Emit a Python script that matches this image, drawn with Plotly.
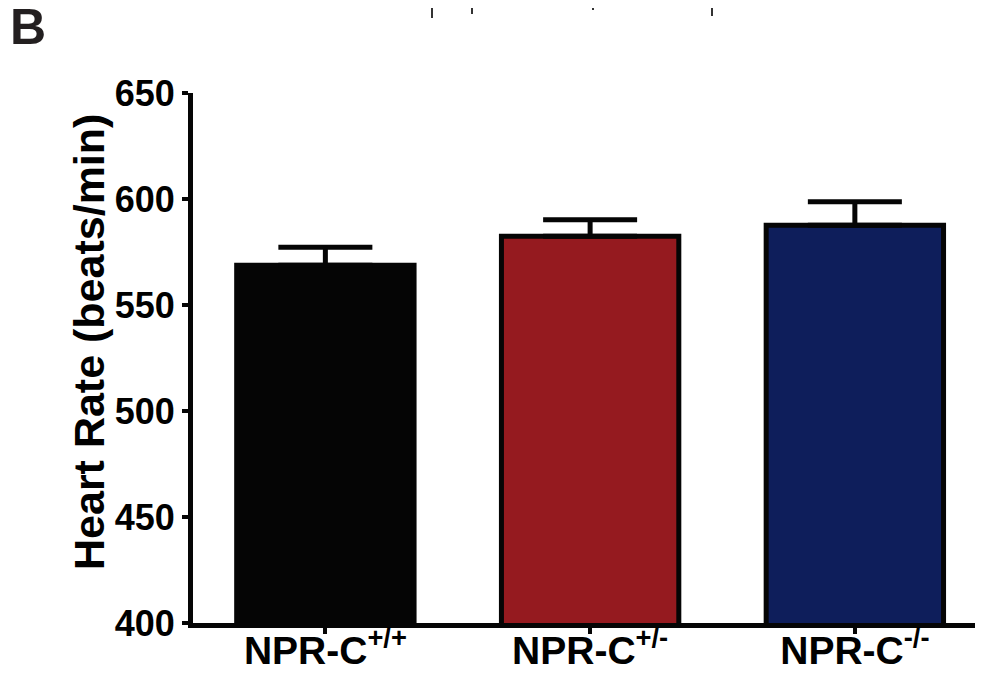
import plotly.graph_objects as go

# Data
categories = ["NPR-C<sup>+/+</sup>", "NPR-C<sup>+/-</sup>", "NPR-C<sup>-/-</sup>"]
heart_rate = [568.7, 582.4, 587.6]
sem = [8.5, 7.8, 11.1]
bar_colors = ["#050505", "#951a1f", "#0e1e5b"]
y_ticks = [400, 450, 500, 550, 600, 650]
y_title = "Heart Rate (beats/min)"
panel_label = "B"

# The page body has an 8px margin, so the figure is sized to fill the rest
OFF = 8
W, H = 983 - OFF, 675 - OFF
L, R, T, B = 193 - OFF, 0, 93 - OFF, 52
pw, ph = W - L - R, H - T - B

def px2paper_x(px):  # px in page coordinates
    return (px - OFF - L) / pw

def px2paper_y(py):
    return (H - B - (py - OFF)) / ph

FONT = "Liberation Sans, Arial, sans-serif"

fig = go.Figure()
fig.add_trace(go.Bar(
    x=list(range(len(categories))),
    y=heart_rate,
    width=0.67,
    marker=dict(color=bar_colors, line=dict(color="#050505", width=5)),
    error_y=dict(type="data", symmetric=False, array=sem,
                 arrayminus=[0] * len(sem), color="#050505",
                 thickness=5, width=47),
    showlegend=False,
))

fig.update_layout(
    width=W, height=H,
    margin=dict(l=L, r=R, t=T, b=B, pad=0),
    plot_bgcolor="white", paper_bgcolor="white",
    font=dict(family=FONT, color="#000000"),
    xaxis=dict(
        range=[-0.5, 2.484],
        tickmode="array",
        tickvals=list(range(len(categories))),
        ticktext=categories,
        tickfont=dict(size=39, family=FONT, weight="bold", color="#000"),
        ticks="outside", ticklen=6, tickwidth=4, tickcolor="#050505",
        ticklabelstandoff=-17,
        showline=True, linecolor="#050505", linewidth=5,
        showgrid=False, zeroline=False, fixedrange=True, automargin=False,
    ),
    yaxis=dict(
        range=[400, 650],
        tickmode="array",
        tickvals=y_ticks,
        tickfont=dict(size=36, family=FONT, weight="bold", color="#000"),
        ticks="outside", ticklen=6, tickwidth=4, tickcolor="#050505",
        showline=True, linecolor="#050505", linewidth=5,
        showgrid=False, zeroline=False, automargin=False,
    ),
    annotations=[
        dict(text=y_title, textangle=-90, xref="paper", yref="paper",
             x=px2paper_x(89), y=px2paper_y(342), xanchor="center", yanchor="middle",
             showarrow=False,
             font=dict(size=43, family=FONT, weight="bold", color="#000")),
        dict(text=panel_label, xref="paper", yref="paper",
             x=px2paper_x(OFF), y=px2paper_y(27), xanchor="left", yanchor="middle",
             showarrow=False,
             font=dict(size=50, family=FONT, weight="bold", color="#231f20")),
    ],
)

# Remnant lines from the panel above (top edge)
for xpx, ylen in [(432, 18), (472, 14), (593, 10), (712, 16)]:
    fig.add_shape(type="line", xref="paper", yref="paper",
                  x0=px2paper_x(xpx), x1=px2paper_x(xpx),
                  y0=px2paper_y(OFF), y1=px2paper_y(ylen),
                  line=dict(color="#333333", width=2))

fig.write_html("out.html")
